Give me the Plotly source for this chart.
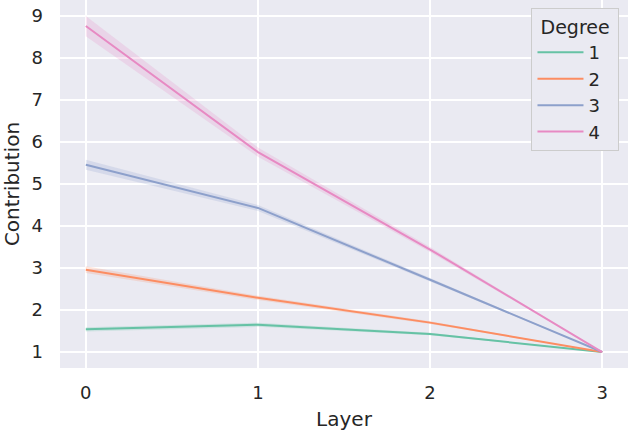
import plotly.graph_objects as go

# Mean contribution per layer for each polynomial degree
layers = [0, 1, 2, 3]
degrees = ["1", "2", "3", "4"]
mean_d1 = [1.54, 1.65, 1.43, 1.0]
mean_d2 = [2.96, 2.29, 1.70, 1.0]
mean_d3 = [5.46, 4.43, 2.72, 1.0]
mean_d4 = [8.76, 5.76, 3.44, 1.0]
# half width of the confidence band
ci_d1 = [0.05, 0.05, 0.03, 0.0]
ci_d2 = [0.08, 0.05, 0.03, 0.0]
ci_d3 = [0.12, 0.07, 0.04, 0.0]
ci_d4 = [0.24, 0.11, 0.06, 0.0]

means = [mean_d1, mean_d2, mean_d3, mean_d4]
cis = [ci_d1, ci_d2, ci_d3, ci_d4]
colors = ["#66c2a5", "#fc8d62", "#8da0cb", "#e78ac3"]
bands = ["rgba(102,194,165,0.22)", "rgba(252,141,98,0.22)",
         "rgba(141,160,203,0.22)", "rgba(231,138,195,0.22)"]

FONT = "DejaVu Sans"
fig = go.Figure()

for deg, m, c, col, band in zip(degrees, means, cis, colors, bands):
    upper = [a + b for a, b in zip(m, c)]
    lower = [a - b for a, b in zip(m, c)]
    fig.add_trace(go.Scatter(
        x=layers + layers[::-1], y=upper + lower[::-1],
        fill="toself", fillcolor=band, line=dict(width=0),
        mode="lines", hoverinfo="skip", showlegend=False))
    fig.add_trace(go.Scatter(
        x=layers, y=m, mode="lines", name=deg,
        line=dict(color=col, width=2)))

fig.update_layout(
    width=628, height=432,
    paper_bgcolor="white",
    plot_bgcolor="#eaeaf2",
    margin=dict(l=60, r=0, t=0, b=64),
    font=dict(family=FONT, size=18, color="#262626"),
    xaxis=dict(
        title=dict(text="Layer", font=dict(size=20), standoff=9),
        range=[-0.15, 3.15], tickvals=layers,
        showgrid=True, gridcolor="white", gridwidth=1.5,
        zeroline=False, showline=False,
        ticklabelstandoff=12,
    ),
    yaxis=dict(
        title=dict(text="Contribution", font=dict(size=20), standoff=6),
        range=[0.62, 9.38], tickvals=list(range(1, 10)),
        showgrid=True, gridcolor="white", gridwidth=1.5,
        zeroline=False, showline=False,
        ticklabelstandoff=16,
    ),
    legend=dict(
        title=dict(text=" Degree ", side="top", font=dict(size=19)),
        x=0.985, y=0.977, xanchor="right", yanchor="top",
        bgcolor="#eaeaf2", bordercolor="#cccccc", borderwidth=1,
        font=dict(size=18), itemwidth=46,
    ),
)

fig.write_html("out.html", config={"displayModeBar": False},
               post_script="document.body.style.margin='0';")
